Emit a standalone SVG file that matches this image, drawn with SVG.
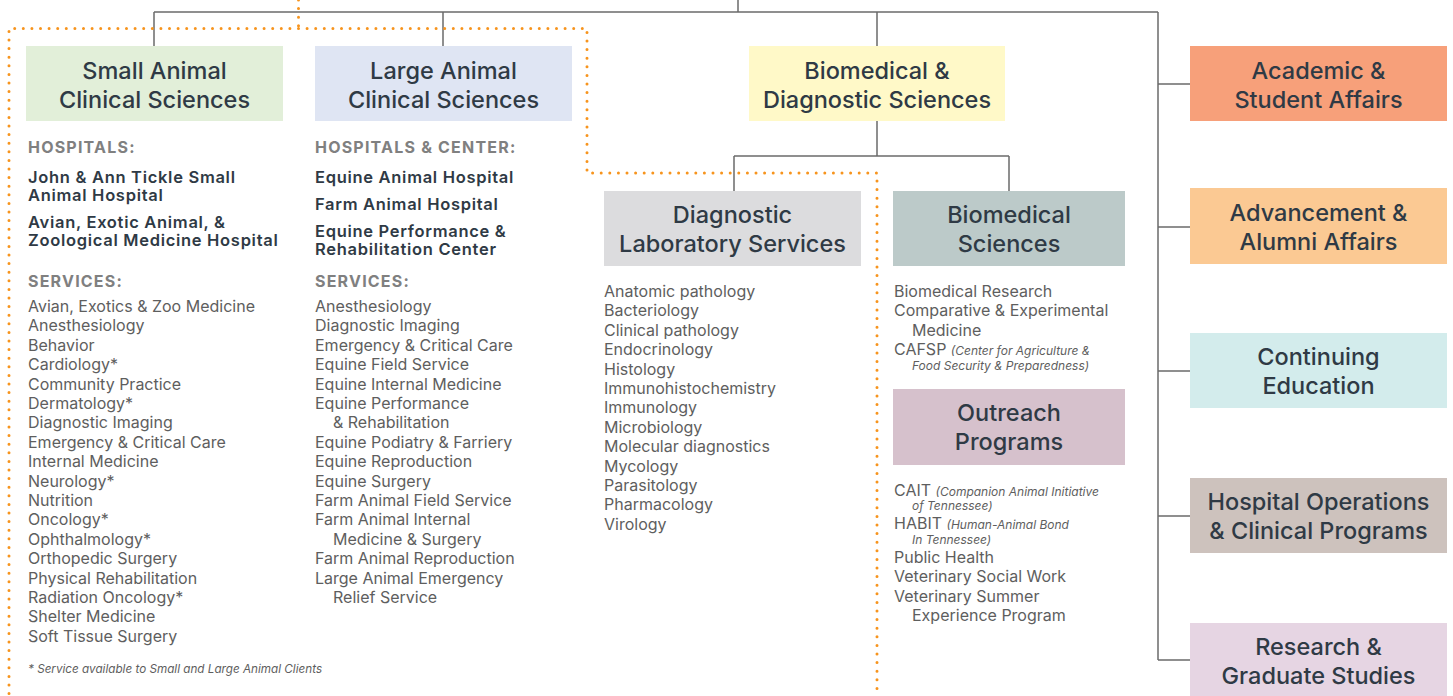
<svg xmlns="http://www.w3.org/2000/svg" width="1453" height="696" viewBox="0 0 1453 696">
<style>
.conn{fill:none;stroke:#6b6b6b;stroke-width:1.5}
.dot{fill:none;stroke:#f7941d;stroke-width:3;stroke-linecap:round;stroke-dasharray:0 8.6}
.t{font-family:Inter,"Noto Sans",sans-serif;font-size:23.5px;font-weight:500;fill:#2f3a45;text-anchor:middle}
.h{font-family:Inter,"Noto Sans",sans-serif;font-size:16px;font-weight:700;fill:#808080;letter-spacing:1.2px}
.b{font-family:Inter,"Noto Sans",sans-serif;font-size:16.5px;font-weight:600;fill:#2f3a45;letter-spacing:0.7px}
.s{font-family:Inter,"Noto Sans",sans-serif;font-size:16px;font-weight:400;fill:#5e5e5e}
.i{font-family:Inter,"Noto Sans",sans-serif;font-size:12px;font-style:italic;fill:#5e5e5e}
.f{font-family:Inter,"Noto Sans",sans-serif;font-size:11.7px;font-style:italic;fill:#5e5e5e}
</style>
<rect width="1453" height="696" fill="#ffffff"/>
<g id="connectors">
<path class="conn" d="M738,0 V12 M154,12 H1158 M154,12 V46 M443,12 V46 M877,12 V46 M877,121 V156 M734,156 H1009 M734,156 V191 M1009,156 V191 M1158,12 V660 M1158,84 H1190 M1158,227 H1190 M1158,371 H1190 M1158,516 H1190 M1158,660 H1190"/>
<path class="dot" d="M298.5,0 V28.5 M298.5,28.5 H9 V696 M298.5,28.5 H587 V173 H877 V696"/>
</g>
<g id="small-animal">
<rect x="26" y="46" width="257" height="75" fill="#e2efd9"/>
<text class="t" x="154.5" y="79">Small Animal</text>
<text class="t" x="154.5" y="108">Clinical Sciences</text>
<text class="h" x="28" y="153">HOSPITALS:</text>
<text class="b" x="28" y="183">John &amp; Ann Tickle Small</text>
<text class="b" x="28" y="201">Animal Hospital</text>
<text class="b" x="28" y="228">Avian, Exotic Animal, &amp;</text>
<text class="b" x="28" y="246">Zoological Medicine Hospital</text>
<text class="h" x="28" y="287">SERVICES:</text>
<text class="s" x="28" y="312">Avian, Exotics &amp; Zoo Medicine</text>
<text class="s" x="28" y="331.4">Anesthesiology</text>
<text class="s" x="28" y="350.8">Behavior</text>
<text class="s" x="28" y="370.2">Cardiology*</text>
<text class="s" x="28" y="389.6">Community Practice</text>
<text class="s" x="28" y="409">Dermatology*</text>
<text class="s" x="28" y="428.4">Diagnostic Imaging</text>
<text class="s" x="28" y="447.8">Emergency &amp; Critical Care</text>
<text class="s" x="28" y="467.2">Internal Medicine</text>
<text class="s" x="28" y="486.6">Neurology*</text>
<text class="s" x="28" y="506">Nutrition</text>
<text class="s" x="28" y="525.4">Oncology*</text>
<text class="s" x="28" y="544.8">Ophthalmology*</text>
<text class="s" x="28" y="564.2">Orthopedic Surgery</text>
<text class="s" x="28" y="583.6">Physical Rehabilitation</text>
<text class="s" x="28" y="603">Radiation Oncology*</text>
<text class="s" x="28" y="622.4">Shelter Medicine</text>
<text class="s" x="28" y="641.8">Soft Tissue Surgery</text>
<text class="f" x="28" y="673">* Service available to Small and Large Animal Clients</text>
</g>
<g id="large-animal">
<rect x="315" y="46" width="257" height="75" fill="#dfe5f3"/>
<text class="t" x="443.5" y="79">Large Animal</text>
<text class="t" x="443.5" y="108">Clinical Sciences</text>
<text class="h" x="315" y="153">HOSPITALS &amp; CENTER:</text>
<text class="b" x="315" y="183">Equine Animal Hospital</text>
<text class="b" x="315" y="210">Farm Animal Hospital</text>
<text class="b" x="315" y="236.5">Equine Performance &amp;</text>
<text class="b" x="315" y="254.5">Rehabilitation Center</text>
<text class="h" x="315" y="287">SERVICES:</text>
<text class="s" x="315" y="312">Anesthesiology</text>
<text class="s" x="315" y="331.4">Diagnostic Imaging</text>
<text class="s" x="315" y="350.8">Emergency &amp; Critical Care</text>
<text class="s" x="315" y="370.2">Equine Field Service</text>
<text class="s" x="315" y="389.6">Equine Internal Medicine</text>
<text class="s" x="315" y="409">Equine Performance</text>
<text class="s" x="333" y="428.4">&amp; Rehabilitation</text>
<text class="s" x="315" y="447.8">Equine Podiatry &amp; Farriery</text>
<text class="s" x="315" y="467.2">Equine Reproduction</text>
<text class="s" x="315" y="486.6">Equine Surgery</text>
<text class="s" x="315" y="506">Farm Animal Field Service</text>
<text class="s" x="315" y="525.4">Farm Animal Internal</text>
<text class="s" x="333" y="544.8">Medicine &amp; Surgery</text>
<text class="s" x="315" y="564.2">Farm Animal Reproduction</text>
<text class="s" x="315" y="583.6">Large Animal Emergency</text>
<text class="s" x="333" y="603">Relief Service</text>
</g>
<g id="biomedical-diagnostic">
<rect x="749" y="46" width="256" height="75" fill="#fff9c8"/>
<text class="t" x="877" y="79">Biomedical &amp;</text>
<text class="t" x="877" y="108">Diagnostic Sciences</text>
</g>
<g id="diagnostic-lab">
<rect x="604" y="191" width="257" height="75" fill="#dcdcde"/>
<text class="t" x="732.5" y="223">Diagnostic</text>
<text class="t" x="732.5" y="252">Laboratory Services</text>
<text class="s" x="604" y="297">Anatomic pathology</text>
<text class="s" x="604" y="316.4">Bacteriology</text>
<text class="s" x="604" y="335.8">Clinical pathology</text>
<text class="s" x="604" y="355.2">Endocrinology</text>
<text class="s" x="604" y="374.6">Histology</text>
<text class="s" x="604" y="394">Immunohistochemistry</text>
<text class="s" x="604" y="413.4">Immunology</text>
<text class="s" x="604" y="432.8">Microbiology</text>
<text class="s" x="604" y="452.2">Molecular diagnostics</text>
<text class="s" x="604" y="471.6">Mycology</text>
<text class="s" x="604" y="491">Parasitology</text>
<text class="s" x="604" y="510.4">Pharmacology</text>
<text class="s" x="604" y="529.8">Virology</text>
</g>
<g id="biomedical-sciences">
<rect x="893" y="191" width="232" height="75" fill="#bccac9"/>
<text class="t" x="1009" y="223">Biomedical</text>
<text class="t" x="1009" y="252">Sciences</text>
<text class="s" x="894" y="297">Biomedical Research</text>
<text class="s" x="894" y="316.4">Comparative &amp; Experimental</text>
<text class="s" x="912" y="335.8">Medicine</text>
<text class="s" x="894" y="355.2">CAFSP <tspan class="i">(Center for Agriculture &amp;</tspan></text>
<text class="i" x="912" y="370">Food Security &amp; Preparedness)</text>
</g>
<g id="outreach">
<rect x="893" y="389" width="232" height="76" fill="#d6c1cc"/>
<text class="t" x="1009" y="421">Outreach</text>
<text class="t" x="1009" y="450">Programs</text>
<text class="s" x="894" y="496">CAIT <tspan class="i">(Companion Animal Initiative</tspan></text>
<text class="i" x="912" y="510">of Tennessee)</text>
<text class="s" x="894" y="529">HABIT <tspan class="i">(Human-Animal Bond</tspan></text>
<text class="i" x="912" y="544">In Tennessee)</text>
<text class="s" x="894" y="563">Public Health</text>
<text class="s" x="894" y="582.4">Veterinary Social Work</text>
<text class="s" x="894" y="601.8">Veterinary Summer</text>
<text class="s" x="912" y="621.2">Experience Program</text>
</g>
<g id="academic">
<rect x="1190" y="46" width="257" height="75" fill="#f7a07a"/>
<text class="t" x="1318.5" y="79">Academic &amp;</text>
<text class="t" x="1318.5" y="108">Student Affairs</text>
</g>
<g id="advancement">
<rect x="1190" y="188" width="257" height="76" fill="#fbc993"/>
<text class="t" x="1318.5" y="221">Advancement &amp;</text>
<text class="t" x="1318.5" y="250">Alumni Affairs</text>
</g>
<g id="continuing">
<rect x="1190" y="333" width="257" height="75" fill="#d3ecec"/>
<text class="t" x="1318.5" y="365">Continuing</text>
<text class="t" x="1318.5" y="394">Education</text>
</g>
<g id="hospital-ops">
<rect x="1190" y="478" width="257" height="75" fill="#cdc2bd"/>
<text class="t" x="1318.5" y="510">Hospital Operations</text>
<text class="t" x="1318.5" y="539">&amp; Clinical Programs</text>
</g>
<g id="research">
<rect x="1190" y="623" width="257" height="75" fill="#e6d5e3"/>
<text class="t" x="1318.5" y="655">Research &amp;</text>
<text class="t" x="1318.5" y="684">Graduate Studies</text>
</g>
</svg>
